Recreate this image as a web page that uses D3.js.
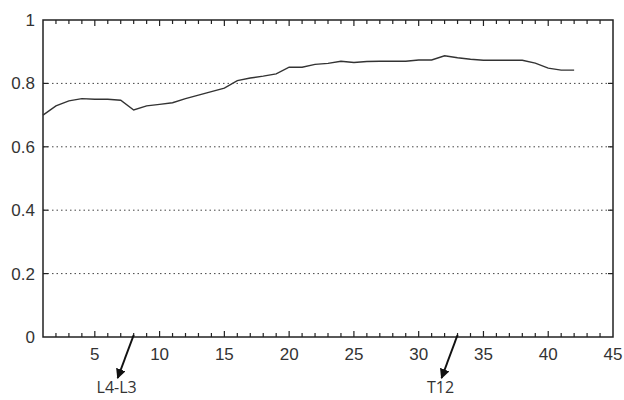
<!DOCTYPE html>
<html>
<head>
<meta charset="utf-8">
<script src="https://cdn.jsdelivr.net/npm/d3@7"></script>
<style>
  body { margin: 0; background: #fff; }
  text { font-family: "Liberation Sans", Arial, sans-serif; fill: #333; }
</style>
</head>
<body>
<div id="chart"></div>
<script>
// values
const xs = d3.range(1, 43);
const ys = [0.700, 0.729, 0.745, 0.752, 0.750, 0.750, 0.747, 0.716, 0.729, 0.734,
            0.739, 0.752, 0.763, 0.774, 0.785, 0.809, 0.817, 0.823, 0.830, 0.851,
            0.851, 0.860, 0.863, 0.870, 0.866, 0.869, 0.870, 0.870, 0.870, 0.874,
            0.874, 0.887, 0.881, 0.876, 0.873, 0.873, 0.873, 0.873, 0.864, 0.848,
            0.842, 0.842];
const xTickLabels = [5, 10, 15, 20, 25, 30, 35, 40, 45];
const yTickLabels = [0, 0.2, 0.4, 0.6, 0.8, 1];
const marks = [{ x: 8, label: "L4-L3" }, { x: 33, label: "T12" }];

const width = 624, height = 400;
const margin = { top: 20, right: 11, bottom: 63, left: 43 };
const w = width - margin.left - margin.right;
const h = height - margin.top - margin.bottom;

const svg = d3.select('#chart')
  .append('svg')
    .attr('width', width)
    .attr('height', height);

svg.append('defs').append('marker')
    .attr('id', 'arrow')
    .attr('viewBox', '0 0 10 10')
    .attr('refX', 9).attr('refY', 5)
    .attr('markerWidth', 5).attr('markerHeight', 5)
    .attr('orient', 'auto')
  .append('path')
    .attr('d', 'M0,0L10,5L0,10z')
    .attr('fill', '#111');

const g = svg.append('g')
    .attr('transform', `translate(${margin.left},${margin.top})`);

const x = d3.scaleLinear().domain([1, 45]).range([0, w]);
const y = d3.scaleLinear().domain([0, 1]).range([h, 0]);

// dotted grid
g.append('g')
  .selectAll('line')
  .data(yTickLabels.filter(d => d > 0 && d < 1))
  .join('line')
    .attr('x1', 0).attr('x2', w)
    .attr('y1', d => y(d)).attr('y2', d => y(d))
    .attr('stroke', '#444')
    .attr('stroke-width', 1)
    .attr('stroke-dasharray', '1.5,3');

// inward ticks, every integer on x
const allX = d3.range(2, 45);
const tickLen = d => (d % 5 === 0 ? 6 : 4);
g.append('g').selectAll('line')
  .data(allX)
  .join('line')
    .attr('x1', d => x(d)).attr('x2', d => x(d))
    .attr('y1', h).attr('y2', d => h - tickLen(d))
    .attr('stroke', '#222').attr('stroke-width', 1.2);
g.append('g').selectAll('line')
  .data(allX)
  .join('line')
    .attr('x1', d => x(d)).attr('x2', d => x(d))
    .attr('y1', 0).attr('y2', d => tickLen(d))
    .attr('stroke', '#222').attr('stroke-width', 1.2);
g.append('g').selectAll('line')
  .data(yTickLabels.slice(1, -1))
  .join('line')
    .attr('x1', 0).attr('x2', 5)
    .attr('y1', d => y(d)).attr('y2', d => y(d))
    .attr('stroke', '#222').attr('stroke-width', 1.2);
g.append('g').selectAll('line')
  .data(yTickLabels.slice(1, -1))
  .join('line')
    .attr('x1', w).attr('x2', w - 5)
    .attr('y1', d => y(d)).attr('y2', d => y(d))
    .attr('stroke', '#222').attr('stroke-width', 1.2);

// frame
g.append('rect')
    .attr('width', w).attr('height', h)
    .attr('fill', 'none')
    .attr('stroke', '#222')
    .attr('stroke-width', 1.5);

// tick labels
g.append('g').selectAll('text')
  .data(xTickLabels)
  .join('text')
    .attr('x', d => x(d))
    .attr('y', h + 23)
    .attr('text-anchor', 'middle')
    .style('font-size', '17px')
    .text(d => d);
g.append('g').selectAll('text')
  .data(yTickLabels)
  .join('text')
    .attr('x', -8)
    .attr('y', d => y(d))
    .attr('dy', '0.35em')
    .attr('text-anchor', 'end')
    .style('font-size', '17px')
    .text(d => d);

// data line
const line = d3.line()
  .x((d, i) => x(xs[i]))
  .y(d => y(d));
g.append('path')
  .datum(ys)
  .attr('d', line)
  .attr('fill', 'none')
  .attr('stroke', '#333')
  .attr('stroke-width', 1.4);

// annotations
const ann = g.append('g').selectAll('g')
  .data(marks)
  .join('g');
ann.append('line')
    .attr('x1', d => x(d.x)).attr('y1', h - 2)
    .attr('x2', d => x(d.x) - 16).attr('y2', h + 41)
    .attr('stroke', '#111')
    .attr('stroke-width', 2)
    .attr('marker-end', 'url(#arrow)');
ann.append('text')
    .attr('x', d => x(d.x) - 17)
    .attr('y', h + 56)
    .attr('text-anchor', 'middle')
    .style('font-size', '16px')
    .style('font-family', '"Open Sans", sans-serif')
    .text(d => d.label);
</script>
</body>
</html>
